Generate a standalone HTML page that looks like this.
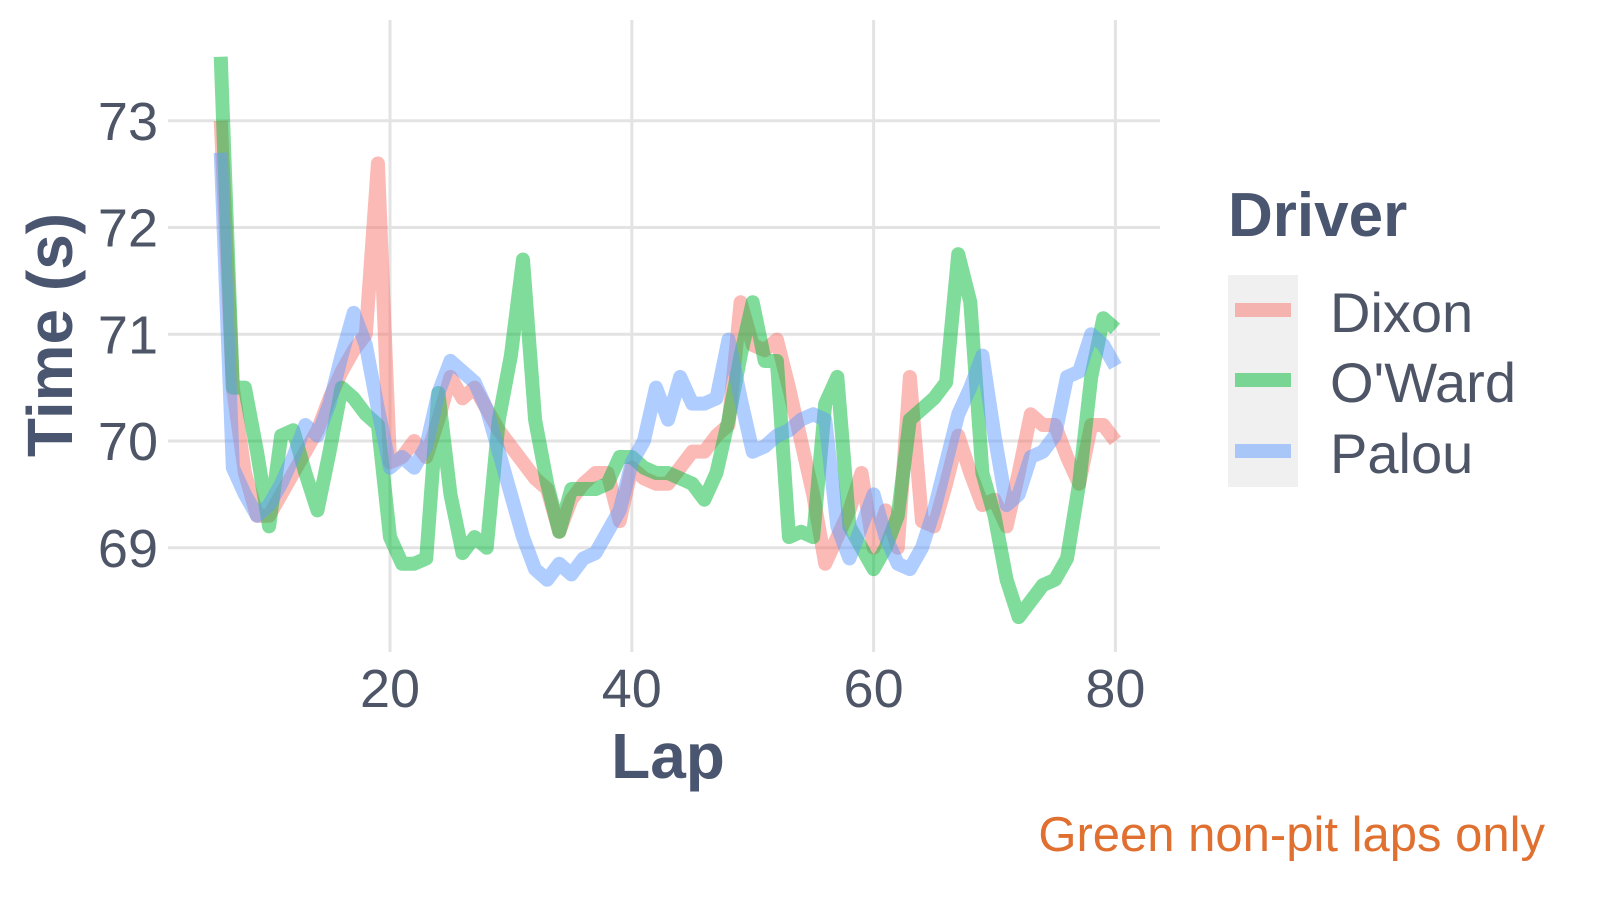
<!DOCTYPE html>
<html><head><meta charset="utf-8"><style>
body{margin:0;background:#fff;}
svg text{font-family:"Liberation Sans",Arial,sans-serif;}
</style></head><body>
<svg id="chart" width="1600" height="900" xmlns="http://www.w3.org/2000/svg">
<g id="grid"></g>
<g id="lines"></g>
<g id="axes"></g>
<text x="668" y="778" font-size="64" font-weight="bold" fill="#4a5570" text-anchor="middle">Lap</text>
<text transform="translate(72,335) rotate(-90)" font-size="64" font-weight="bold" fill="#4a5570" text-anchor="middle">Time (s)</text>
<g>
<text x="1228" y="236" font-size="62" font-weight="bold" fill="#4a5570">Driver</text>
<rect x="1228" y="275" width="70" height="212" fill="#f0f0f0"/>
<line x1="1235" x2="1291" y1="310" y2="310" stroke="#F8766D" stroke-opacity="0.5" stroke-width="14"/>
<line x1="1235" x2="1291" y1="380" y2="380" stroke="#00BA38" stroke-opacity="0.5" stroke-width="14"/>
<line x1="1235" x2="1291" y1="451" y2="451" stroke="#619CFF" stroke-opacity="0.5" stroke-width="14"/>
<text x="1330" y="332" font-size="56" fill="#4d5566">Dixon</text>
<text x="1330" y="402" font-size="56" fill="#4d5566">O'Ward</text>
<text x="1330" y="473" font-size="56" fill="#4d5566">Palou</text>
</g>
<text x="1545" y="851" font-size="49" fill="#e07030" text-anchor="end">Green non-pit laps only</text>
</svg>
<script>
const laps = [];
for (let l = 6; l <= 80; l++) laps.push(l);
const dixon = [73.0,70.5,69.7,69.3,69.3,69.5,69.7,69.9,70.1,70.4,70.65,70.85,71.0,72.6,69.8,69.85,70.0,69.85,70.2,70.6,70.4,70.5,70.3,70.1,69.95,69.8,69.65,69.55,69.15,69.45,69.6,69.7,69.7,69.25,69.75,69.65,69.6,69.6,69.75,69.9,69.9,70.05,70.15,71.3,70.9,70.85,70.95,70.5,70.0,69.5,68.85,69.1,69.35,69.7,69.0,69.35,69.0,70.6,69.25,69.2,69.6,70.05,69.7,69.4,69.45,69.2,69.7,70.25,70.15,70.15,69.85,69.6,70.15,70.15,70.0];
const oward = [73.6,70.5,70.5,69.9,69.2,70.05,70.1,69.7,69.35,69.9,70.5,70.4,70.25,70.15,69.1,68.85,68.85,68.9,70.45,69.5,68.95,69.1,69.0,70.2,70.8,71.7,70.2,69.6,69.15,69.55,69.55,69.55,69.6,69.85,69.85,69.75,69.7,69.7,69.65,69.6,69.45,69.7,70.2,70.8,71.3,70.75,70.75,69.1,69.15,69.1,70.35,70.6,69.2,69.0,68.8,69.0,69.3,70.2,70.3,70.4,70.55,71.75,71.3,69.7,69.3,68.7,68.35,68.5,68.65,68.7,68.9,69.6,70.6,71.15,71.05];
const palou = [72.7,69.75,69.5,69.3,69.4,69.6,69.85,70.15,70.05,70.35,70.8,71.2,70.9,70.3,69.75,69.85,69.75,69.95,70.45,70.75,70.65,70.55,70.3,69.9,69.5,69.1,68.8,68.7,68.85,68.75,68.9,68.95,69.15,69.35,69.8,70.0,70.5,70.2,70.6,70.35,70.35,70.4,70.95,70.4,69.9,69.95,70.05,70.1,70.2,70.25,70.2,69.2,68.9,69.2,69.5,69.1,68.85,68.8,69.0,69.35,69.8,70.25,70.5,70.8,70.05,69.4,69.5,69.85,69.9,70.05,70.6,70.65,71.0,70.9,70.7];
const xTicks = [20,40,60,80];
const yTicks = [69,70,71,72,73];

const NS = "http://www.w3.org/2000/svg";
const X = v => 390 + (v - 20) * 12.09;
const Y = v => 441 - (v - 70) * 106.75;
const grid = document.getElementById('grid');
const axes = document.getElementById('axes');
const linesG = document.getElementById('lines');

xTicks.forEach(t => {
  const l = document.createElementNS(NS, 'line');
  
  
  l.setAttribute('x1', X(t)); l.setAttribute('x2', X(t));
  l.setAttribute('y1', 20); l.setAttribute('y2', 652);
  l.setAttribute('stroke', '#e3e3e3'); l.setAttribute('stroke-width', 3);
  grid.appendChild(l);
  const tx = document.createElementNS(NS, 'text');
  
  
  tx.setAttribute('x', X(t)); tx.setAttribute('y', 707);
  tx.setAttribute('font-size', 54); tx.setAttribute('fill', '#4d5566');
  tx.setAttribute('text-anchor', 'middle');
  tx.textContent = t;
  axes.appendChild(tx);
});
yTicks.forEach(t => {
  const l = document.createElementNS(NS, 'line');
  
  
  l.setAttribute('x1', 168); l.setAttribute('x2', 1160);
  l.setAttribute('y1', Y(t)); l.setAttribute('y2', Y(t));
  l.setAttribute('stroke', '#e3e3e3'); l.setAttribute('stroke-width', 3);
  grid.appendChild(l);
  const tx = document.createElementNS(NS, 'text');
  
  
  tx.setAttribute('x', 158); tx.setAttribute('y', Y(t) + 19);
  tx.setAttribute('font-size', 54); tx.setAttribute('fill', '#4d5566');
  tx.setAttribute('text-anchor', 'end');
  tx.textContent = t;
  axes.appendChild(tx);
});
function drawSeries(vals, color, name) {
  const p = document.createElementNS(NS, 'polyline');
  
  
  p.setAttribute('points', vals.map((v, i) => X(laps[i]) + ',' + Y(v)).join(' '));
  p.setAttribute('fill', 'none');
  p.setAttribute('stroke', color);
  p.setAttribute('stroke-opacity', 0.5);
  p.setAttribute('stroke-width', 14);
  p.setAttribute('stroke-linejoin', 'round');
  linesG.appendChild(p);
}
drawSeries(dixon, '#F8766D', 'line-dixon');
drawSeries(oward, '#00BA38', 'line-oward');
drawSeries(palou, '#619CFF', 'line-palou');
</script>
</body></html>
